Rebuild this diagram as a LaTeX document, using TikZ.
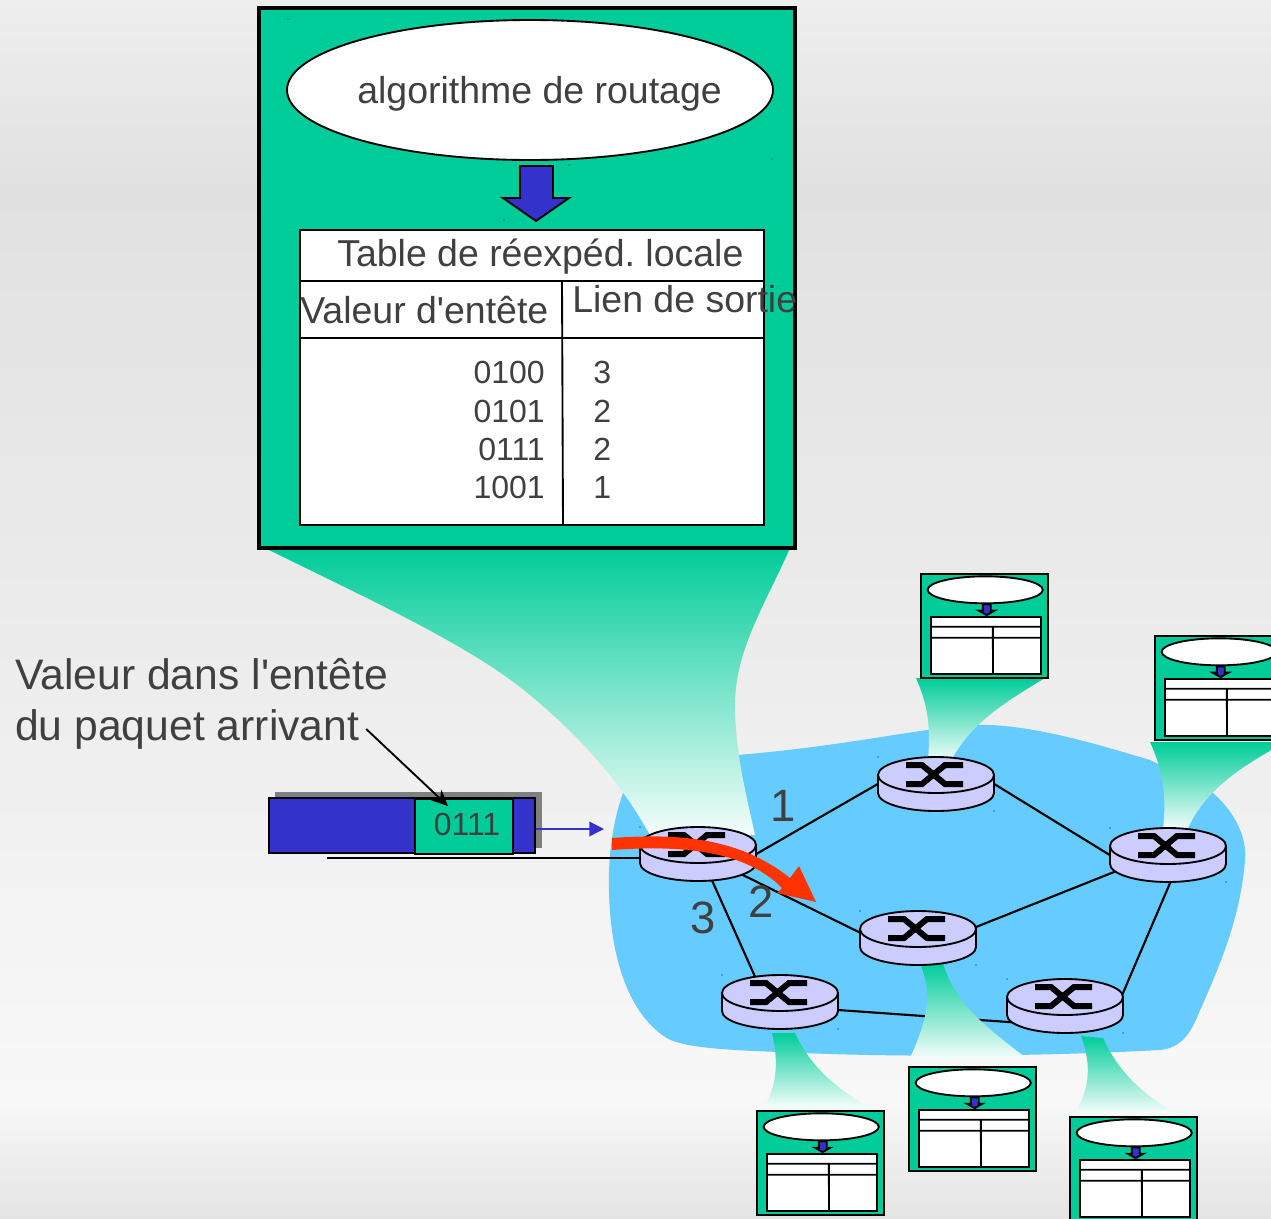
\documentclass[tikz,border=0pt]{standalone}
\usepackage{fontspec}
\setmainfont{Liberation Sans}[Ligatures=TeXOff]
\usetikzlibrary{arrows.meta,shapes.geometric}
\frenchspacing

\definecolor{tealc}{HTML}{00CC99}
\definecolor{bluec}{HTML}{3333CC}
\definecolor{cloudc}{HTML}{66CCFF}
\definecolor{routerc}{HTML}{CCCCFF}
\definecolor{redc}{HTML}{FF3300}
\definecolor{textc}{HTML}{404040}
\definecolor{bgA}{HTML}{EEEEEE}
\definecolor{bgB}{HTML}{E1E1E1}
\definecolor{bgC}{HTML}{ECECEC}
\definecolor{bgD}{HTML}{F8F8F8}
\definecolor{bgE}{HTML}{E4E4E4}

\pgfdeclareverticalshading{bggrad}{100bp}{color(0bp)=(bgE); color(25bp)=(bgE); color(29.85bp)=(bgD); color(48.75bp)=(bgC); color(67.2bp)=(bgB); color(75bp)=(bgA); color(100bp)=(bgA)}

\tikzset{
  thinline/.style={line width=1.4pt},
  funnel/.style={top color=tealc, bottom color=tealc!4!white},
  link/.style={line width=1.6pt},
  rnode/.style={ellipse, minimum width=87pt, minimum height=40.5pt, inner sep=0pt},
  txt/.style={text=textc, inner sep=0pt},
  bigtxt/.style={txt, font=\fontsize{28.1}{32}\selectfont},
  numtxt/.style={txt, font=\fontsize{24}{28}\selectfont},
  lbltxt/.style={txt, font=\fontsize{32}{36}\selectfont},
  lnktxt/.style={txt, font=\fontsize{34}{38}\selectfont},
  pics/fwdbox/.style={code={
    \draw[line width=#1,fill=tealc] (0,0) rectangle (536,540);
    \draw[thinline,fill=white] (271,82) ellipse [x radius=243, y radius=70];
    \draw[thinline,fill=bluec] (261,158) -- (294,158) -- (294,190) -- (310,190)
                               -- (277,213) -- (244,190) -- (261,190) -- cycle;
    \draw[thinline,fill=white] (41,222) rectangle (505,517);
    \draw[thinline] (41,273) -- (505,273)
                    (41,330) -- (505,330)
                    (303,273) -- (304,517);
    \foreach \tx/\ty in {29/11,310/157,513/151,245/212}
      \fill (\tx,\ty) circle (.5pt);
  }},
  pics/router/.style={code={
    \draw[thinline,fill=routerc] (-58,-9) -- (-58,9) arc [start angle=180, end angle=0, x radius=58, y radius=18]
                                 -- (58,-9) -- cycle;
    \draw[thinline,fill=routerc] (0,-9) ellipse [x radius=58, y radius=18];
    \draw[line width=4.5pt] (-30,-19) -- (-14,-19) -- (9,0) -- (27,0)
                            (-30,0) -- (-14,0) -- (9,-19) -- (27,-19);
    \fill (-58,-27) circle (.5pt)
          (58,27) circle (.5pt);
  }}
}

\begin{document}
\begin{tikzpicture}[x=.75pt,y=-.75pt]
    \path[use as bounding box,clip] (0,0) rectangle (1271,1218);
    \shade[shading=bggrad] (0,0) rectangle (1271,1218);

    % cloud
    \fill[cloudc] (625,788) .. controls (612,820) and (608,860) .. (609,890)
                  .. controls (610,950) and (625,1010) .. (665,1037)
                  .. controls (680,1047) and (720,1050) .. (780,1052)
                  .. controls (900,1058) and (1050,1056) .. (1160,1050)
                  .. controls (1180,1048) and (1190,1035) .. (1198,1015)
                  .. controls (1220,965) and (1240,920) .. (1245,860)
                  .. controls (1248,830) and (1225,800) .. (1205,787)
                  .. controls (1190,778) and (1170,770) .. (1150,760)
                  .. controls (1100,745) and (1040,727) .. (990,725)
                  .. controls (940,723) and (860,745) .. (737,755) -- cycle;

    \foreach \name/\px/\py in {ra/698/854,rb/936/784,rc/1168/855,rd/918/938,re/780/1002,rf/1065/1006}
      \node[rnode] (\name) at (\px,\py) {};

    \coordinate (inlet) at (327,858);
    \draw[link] (ra.east) -- (rb.west);
    \draw[link] (ra.-25) -- (rd.175);
    \draw[link] (ra.-62) -- (re.135);
    \draw[link] (rb.east) -- (rc.west);
    \draw[link] (rc.197) -- (rd.10);
    \draw[link] (rc.-85) -- (rf.8);
    \draw[link] (re.-8) -- (rf.200);
    \draw[link] (inlet) -- (inlet -| ra.west);

    % funnels
    \shade[funnel] (265,548) .. controls (370,600) and (470,645) .. (530,695)
                   .. controls (590,745) and (625,790) .. (650,835)
                   -- (755,835) .. controls (745,790) and (735,750) .. (735,705)
                   .. controls (735,650) and (765,605) .. (790,548) -- cycle;
    \shade[funnel] (916,678) .. controls (930,710) and (930,730) .. (928,762)
                   -- (950,762) .. controls (970,725) and (1000,705) .. (1045,678) -- cycle;
    \shade[funnel] (1150,742) .. controls (1165,775) and (1166,800) .. (1163,830)
                   -- (1187,830) .. controls (1205,790) and (1240,768) .. (1275,748) -- (1275,742) -- cycle;
    \shade[funnel] (772,1033) -- (795,1033) .. controls (812,1070) and (840,1090) .. (868,1107)
                   -- (765,1107) .. controls (778,1080) and (778,1060) .. (772,1033);
    \shade[funnel] (920,963) -- (943,963) .. controls (955,1005) and (990,1030) .. (1026,1058)
                   -- (910,1058) .. controls (932,1010) and (930,990) .. (920,963);
    \shade[funnel] (1081,1036) -- (1103,1038) .. controls (1120,1075) and (1145,1095) .. (1175,1113)
                   -- (1075,1113) .. controls (1092,1085) and (1090,1060) .. (1081,1036);

    % tables
    \pic at (259,8) {fwdbox=3pt};
    \foreach \bx/\by in {921/574,1155/636,757/1111,909/1067,1070/1117}
      \pic[xscale=.237,yscale=.193] at (\bx,\by) {fwdbox=1.5pt};

    \node[bigtxt,anchor=base west] (algo) at (357,103) {algorithme de routage};
    \node[bigtxt,anchor=base west] (tabl) at (337,266) {Table de réexpéd. locale};
    \node[bigtxt,anchor=base west] (hval) at (300,323) {Valeur d'entête};
    \node[bigtxt,anchor=base west] (hlnk) at (572,312) {Lien de sortie};
    \foreach \val/\lnk/\by in {0100/3/383,0101/2/422,0111/2/460,1001/1/498}{
      \node[numtxt,anchor=base east] at (545,\by) {\val};
      \node[numtxt,anchor=base west] at (593,\by) {\lnk};
    }

    \foreach \name in {ra,rb,rc,rd,re,rf}
      \pic at (\name) {router};

    % packet
    \fill[gray] (275,792) rectangle (542,848);
    \node[draw,line width=1.5pt,fill=bluec,minimum width=199.5pt,minimum height=41pt,inner sep=0pt] (pkt) at (402,825.5) {};
    \node[draw,line width=1.5pt,fill=tealc,text=textc,minimum width=73.5pt,minimum height=41pt,inner sep=0pt,
          font=\fontsize{24}{28}\selectfont] (val) at (464,826.5) {\hspace*{4.5pt}\raisebox{3.8pt}{0111}};

    \node[lbltxt,anchor=base west] (lbla) at (15,689) {Valeur dans l'entête};
    \node[lbltxt,anchor=base west] (lblb) at (15,740) {du paquet arrivant};
    \coordinate (hdrtip) at (448,806);
    \draw[line width=1.4pt,-{Stealth[length=12pt,width=11pt]}] ([xshift=5pt]lblb.east) -- (hdrtip);

    \coordinate (outlet) at (604,829);
    \draw[bluec,line width=1pt,-{Triangle[length=11pt,width=11pt]}] (pkt.east |- outlet) -- (outlet);

    \node[lnktxt,anchor=base] (one) at (783,821) {1};
    \node[lnktxt,anchor=base] (two) at (761,917) {2};
    \node[lnktxt,anchor=base] (three) at (703,933) {3};

    % red path through the router
    \fill[redc] (612,838) .. controls (680,833) and (740,838) .. (790,878)
                -- (799,866) -- (816,902) -- (777,893) -- (782,888)
                .. controls (745,850) and (680,845) .. (612,850) -- cycle;
\end{tikzpicture}
\end{document}
